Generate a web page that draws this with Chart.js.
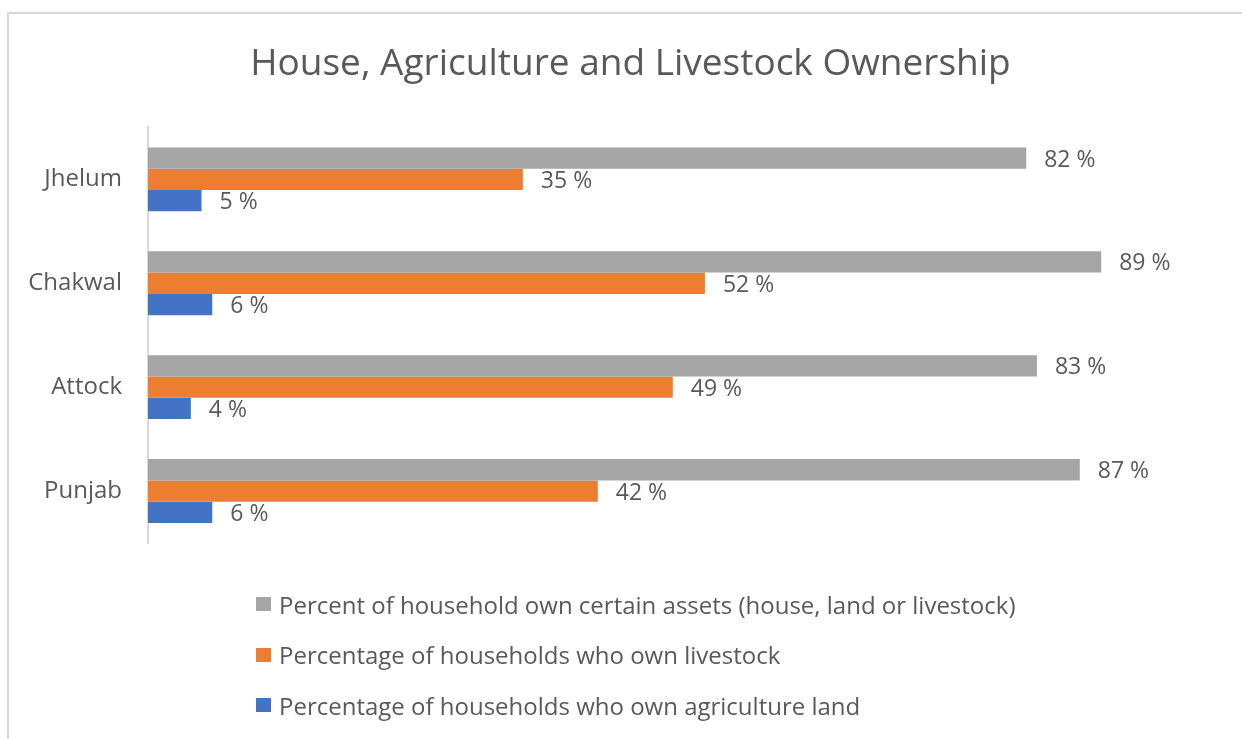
<!DOCTYPE html>
<html>
<head>
<meta charset="utf-8">
<script src="https://cdn.jsdelivr.net/npm/chart.js@4"></script>
<style>
  html, body { margin: 0; padding: 0; background: #fff; overflow: hidden; }
  #wrap { position: relative; width: 1242px; height: 739px; }
  #frame { position: absolute; left: 7px; top: 12px; width: 1300px; height: 800px; border: 2px solid #d9d9d9; box-sizing: border-box; }
  #chart { position: absolute; left: 0; top: 0; }
  #legend { position: absolute; left: 256px; top: 579px; font-family: "Open Sans", sans-serif; font-size: 24px; color: #595959; }
  #legend div { height: 50.5px; display: flex; align-items: center; }
  #legend span.box { display: inline-block; width: 15px; height: 14px; margin-right: 8px; }
</style>
</head>
<body>
<div id="wrap">
  <div id="frame"></div>
  <canvas id="chart" width="1242" height="739"></canvas>
  <div id="legend"></div>
</div>
<script>
const titleText = "House, Agriculture and Livestock Ownership";
const districts = ["Jhelum", "Chakwal", "Attock", "Punjab"];
const seriesNames = [
  "Percent of household own certain assets (house, land or livestock)",
  "Percentage of households who own livestock",
  "Percentage of households who own agriculture land"
];
const ownAssets = [82, 89, 83, 87];
const ownLivestock = [35, 52, 49, 42];
const ownAgriLand = [5, 6, 4, 6];
const colors = ["#A5A5A5", "#ED7D31", "#4472C4"];

const textColor = "#595959";
const fontFamily = "'Open Sans', sans-serif";

// value labels next to each bar end
const valueLabels = {
  id: "valueLabels",
  afterLayout(chart) {
    // nudge the title a little right, like the original
    chart.titleBlock.left = 42;
  },
  afterDatasetsDraw(chart) {
    const ctx = chart.ctx;
    ctx.save();
    ctx.font = "23px " + fontFamily;
    ctx.fillStyle = textColor;
    ctx.textAlign = "left";
    ctx.textBaseline = "middle";
    chart.data.datasets.forEach((ds, i) => {
      chart.getDatasetMeta(i).data.forEach((bar, j) => {
        ctx.fillText(ds.data[j] + " %", bar.x + 18, bar.y + 2);
      });
    });
    ctx.restore();
  }
};

const allSeries = [ownAssets, ownLivestock, ownAgriLand];

new Chart(document.getElementById("chart").getContext("2d"), {
  type: "bar",
  data: {
    labels: districts,
    datasets: allSeries.map((d, i) => ({
      label: seriesNames[i],
      data: d,
      backgroundColor: colors[i],
      categoryPercentage: 0.615,
      barPercentage: 1
    }))
  },
  options: {
    indexAxis: "y",
    responsive: false,
    animation: false,
    layout: { padding: { left: 0, right: 23, top: 0, bottom: 196 } },
    plugins: {
      legend: { display: false },
      tooltip: { enabled: false },
      title: {
        display: true,
        text: titleText,
        color: textColor,
        font: { family: fontFamily, size: 37, weight: "normal" },
        padding: { top: 42, bottom: 41 }
      }
    },
    scales: {
      x: { display: false, min: 0, max: 100 },
      y: {
        grid: { display: false },
        border: { display: true, color: "#d9d9d9", width: 2 },
        ticks: { color: textColor, font: { family: fontFamily, size: 24 }, padding: 18 },
        afterFit(scale) { scale.width = 148; }
      }
    }
  },
  plugins: [valueLabels]
});

const legend = document.getElementById("legend");
seriesNames.forEach((name, i) => {
  const row = document.createElement("div");
  const box = document.createElement("span");
  box.className = "box";
  box.style.background = colors[i];
  row.appendChild(box);
  row.appendChild(document.createTextNode(name));
  legend.appendChild(row);
});
</script>
</body>
</html>
